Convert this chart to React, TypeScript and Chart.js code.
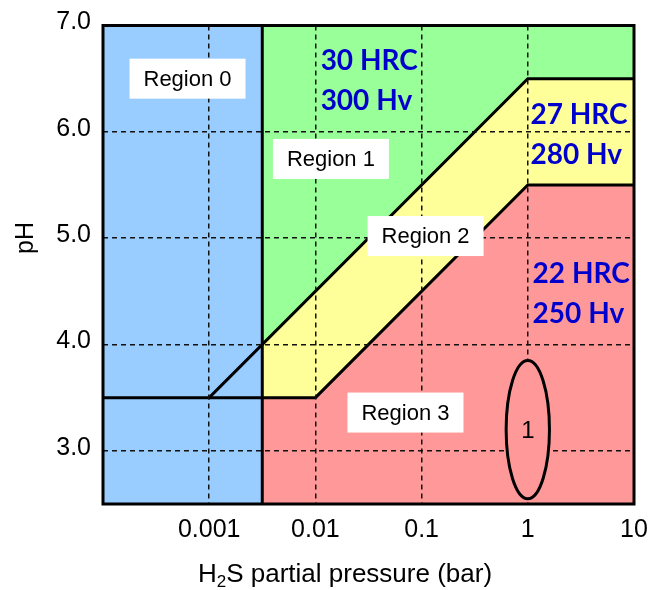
import React, { useEffect, useRef } from "react";
import { Chart, registerables } from "chart.js";

Chart.register(...registerables);

// Axis ticks
const pressureTicks = [0.001, 0.01, 0.1, 1, 10]; // H2S partial pressure, bar
const phTicks = [3, 4, 5, 6, 7];
const pressureMin = 0.0001;
const pressureMax = 10;
const phMin = 2.5;
const phMax = 7.0;

// Boundary between Region 0 and the rest (10^-2.5 bar)
const region0LimitX = [0.00316, 0.00316];
const region0LimitY = [2.5, 7.0];

// Upper boundary line (Region 1 / Region 2)
const upperBoundaryX = [0.001, 1, 10];
const upperBoundaryY = [3.5, 6.5, 6.5];

// Lower boundary line (Region 2 / Region 3) with the pH 3.5 floor
const lowerBoundaryX = [0.0001, 0.01, 1, 10];
const lowerBoundaryY = [3.5, 3.5, 5.5, 5.5];

// Top edges of the filled regions
const region0TopX = [0.0001, 0.00316];
const region0TopY = [7.0, 7.0];
const region1TopX = [0.00316, 10];
const region1TopY = [7.0, 7.0];
const region2TopX = [0.00316, 1, 10];
const region2TopY = [4.0, 6.5, 6.5];
const region3TopX = [0.00316, 0.01, 1, 10];
const region3TopY = [3.5, 3.5, 5.5, 5.5];

// Region labels (centre of each label box, bar / pH)
const regionNames = ["Region 0", "Region 1", "Region 2", "Region 3"];
const regionLabelX = [0.000625, 0.014, 0.109, 0.0705];
const regionLabelY = [6.5, 5.745, 5.02, 3.36];

// Hardness limits (left edge, middle of the two lines)
const hardnessLines = [
  ["30 HRC", "300 Hv"],
  ["27 HRC", "280 Hv"],
  ["22 HRC", "250 Hv"],
];
const hardnessX = [0.0112, 1.06, 1.11];
const hardnessY = [6.49, 5.98, 4.48];

// Note 1 marker: centre and half-axes (decades in x, pH in y)
const noteLabel = "1";
const noteCenterX = 1;
const noteCenterY = 3.2;
const noteHalfDecades = 0.204;
const noteHalfPh = 0.65;

const COLORS = {
  region0: "#99CCFF",
  region1: "#99FF99",
  region2: "#FFFF99",
  region3: "#FF9999",
  hardness: "#0000CC",
};

const SANS = '"Liberation Sans", Arial, sans-serif';

const pts = (xs: number[], ys: number[]) => xs.map((x, i) => ({ x, y: ys[i] }));

const fillSet = (xs: number[], ys: number[], color: string, fill: any) => ({
  data: pts(xs, ys),
  backgroundColor: color,
  borderColor: "rgba(0,0,0,0)",
  borderWidth: 0,
  pointRadius: 0,
  fill,
  order: 1,
});

const lineSet = (xs: number[], ys: number[]) => ({
  data: pts(xs, ys),
  borderColor: "#000",
  borderWidth: 3,
  pointRadius: 0,
  fill: false,
  order: 0,
  borderCapStyle: "square" as const,
});

const overlay = {
  id: "overlay",
  afterDraw(chart: any) {
    const { ctx, chartArea: a } = chart;
    const xs = chart.scales.x;
    const ys = chart.scales.y;
    ctx.save();

    // note marker ellipse
    const cx = xs.getPixelForValue(noteCenterX);
    const cy = ys.getPixelForValue(noteCenterY);
    const rx = xs.getPixelForValue(noteCenterX * Math.pow(10, noteHalfDecades)) - cx;
    const ry = ys.getPixelForValue(noteCenterY - noteHalfPh) - cy;
    ctx.beginPath();
    ctx.ellipse(cx, cy, rx, ry, 0, 0, Math.PI * 2);
    ctx.fillStyle = COLORS.region3;
    ctx.fill();
    ctx.lineWidth = 3;
    ctx.strokeStyle = "#000";
    ctx.stroke();
    ctx.fillStyle = "#000";
    ctx.font = `24px ${SANS}`;
    ctx.textAlign = "center";
    ctx.textBaseline = "middle";
    ctx.fillText(noteLabel, cx, cy + 2);

    // plot frame
    ctx.lineWidth = 3;
    ctx.strokeStyle = "#000";
    ctx.strokeRect(a.left, a.top, a.right - a.left, a.bottom - a.top);

    // region label boxes
    ctx.font = `22px ${SANS}`;
    regionNames.forEach((name, i) => {
      const px = xs.getPixelForValue(regionLabelX[i]);
      const py = ys.getPixelForValue(regionLabelY[i]);
      ctx.fillStyle = "#fff";
      ctx.fillRect(px - 58, py - 20, 116, 40);
      ctx.fillStyle = "#000";
      ctx.fillText(name, px, py + 1);
    });

    // hardness limits
    ctx.font = `bold 28px Lato, "Open Sans", sans-serif`;
    ctx.textAlign = "left";
    ctx.textBaseline = "alphabetic";
    ctx.fillStyle = COLORS.hardness;
    hardnessLines.forEach((lines, i) => {
      const px = xs.getPixelForValue(hardnessX[i]);
      const py = ys.getPixelForValue(hardnessY[i]);
      ctx.fillText(lines[0], px, py - 10);
      ctx.fillText(lines[1], px, py + 30);
    });

    // y axis title
    ctx.fillStyle = "#000";
    ctx.font = `25px ${SANS}`;
    ctx.save();
    ctx.translate(26, 238);
    ctx.rotate(-Math.PI / 2);
    ctx.textAlign = "center";
    ctx.textBaseline = "middle";
    ctx.fillText("pH", 0, 0);
    ctx.restore();

    // x axis title with subscript
    const big = `26px ${SANS}`;
    const small = `17px ${SANS}`;
    ctx.textAlign = "left";
    ctx.textBaseline = "alphabetic";
    ctx.font = big;
    const wH = ctx.measureText("H").width;
    const wRest = ctx.measureText("S partial pressure (bar)").width;
    ctx.font = small;
    const w2 = ctx.measureText("2").width;
    const total = wH + w2 + wRest;
    let tx = 345 - total / 2;
    const base = 582;
    ctx.font = big;
    ctx.fillText("H", tx, base);
    tx += wH;
    ctx.font = small;
    ctx.fillText("2", tx, base + 5);
    tx += w2;
    ctx.font = big;
    ctx.fillText("S partial pressure (bar)", tx, base);

    ctx.restore();
  },
};

export default function App() {
  const ref = useRef<HTMLCanvasElement | null>(null);

  useEffect(() => {
    if (!ref.current) return;
    const chart = new Chart(ref.current, {
      type: "line",
      data: {
        datasets: [
          fillSet(region0TopX, region0TopY, COLORS.region0, "start"),
          fillSet(region1TopX, region1TopY, COLORS.region1, 2),
          fillSet(region2TopX, region2TopY, COLORS.region2, 3),
          fillSet(region3TopX, region3TopY, COLORS.region3, "start"),
          lineSet(lowerBoundaryX, lowerBoundaryY),
          lineSet(upperBoundaryX, upperBoundaryY),
          lineSet(region0LimitX, region0LimitY),
        ] as any,
      },
      options: {
        responsive: false,
        animation: false,
        events: [],
        layout: { padding: { top: 25.5, right: 14, left: 0, bottom: 0 } },
        plugins: {
          legend: { display: false },
          tooltip: { enabled: false },
        },
        elements: { line: { tension: 0 } },
        scales: {
          x: {
            type: "logarithmic",
            min: pressureMin,
            max: pressureMax,
            afterBuildTicks: (scale: any) => {
              scale.ticks = pressureTicks.map((v) => ({ value: v }));
            },
            afterFit: (scale: any) => {
              scale.height = 86;
              scale.paddingLeft = 0;
              scale.paddingRight = 0;
            },
            ticks: {
              autoSkip: false,
              maxRotation: 0,
              padding: 11,
              color: "#000",
              font: { family: SANS, size: 25 },
              callback: (v: any) => String(Number(v)),
            },
            grid: {
              z: 1,
              color: "#111",
              lineWidth: 1.5,
              drawTicks: false,
            },
            border: { display: false, dash: [5, 4] },
          },
          y: {
            type: "linear",
            min: phMin,
            max: phMax,
            afterBuildTicks: (scale: any) => {
              scale.ticks = phTicks.map((v) => ({ value: v }));
            },
            afterFit: (scale: any) => {
              scale.width = 103;
              scale.paddingTop = 0;
              scale.paddingBottom = 0;
            },
            ticks: {
              autoSkip: false,
              padding: 12,
              labelOffset: -3,
              color: "#000",
              font: { family: SANS, size: 25 },
              callback: (v: any) => Number(v).toFixed(1),
            },
            grid: {
              z: 1,
              color: "#111",
              lineWidth: 1.5,
              drawTicks: false,
            },
            border: { display: false, dash: [5, 4] },
          },
        },
      } as any,
      plugins: [overlay],
    });
    return () => chart.destroy();
  }, []);

  return (
    <div style={{ position: "fixed", left: 0, top: 0, width: 648, height: 590, background: "#fff" }}>
      <canvas ref={ref} width={648} height={590} style={{ display: "block" }} />
    </div>
  );
}
